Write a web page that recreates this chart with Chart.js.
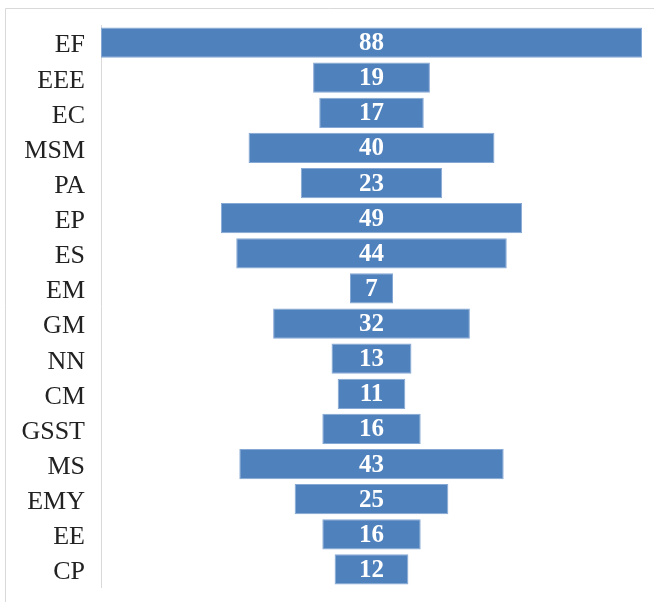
<!DOCTYPE html>
<html>
<head>
<meta charset="utf-8">
<script src="https://cdn.jsdelivr.net/npm/chart.js@4/dist/chart.umd.min.js"></script>
<style>
  html, body { margin: 0; padding: 0; background: #fff; }
  #wrap { width: 654px; height: 602px; }
</style>
</head>
<body>
<div id="wrap"><canvas id="funnel"></canvas></div>
<script>
const categories = ['EF', 'EEE', 'EC', 'MSM', 'PA', 'EP', 'ES', 'EM', 'GM', 'NN', 'CM', 'GSST', 'MS', 'EMY', 'EE', 'CP']
const counts = [88, 19, 17, 40, 23, 49, 44, 7, 32, 13, 11, 16, 43, 25, 16, 12]

// bars are centred on zero so they stack up like a funnel
const spans = counts.map(v => [-v / 2, v / 2])

const frame = {
  id: 'frame',
  beforeDraw(chart) {
    const c = chart.ctx
    c.save()
    c.strokeStyle = '#d9d9d9'
    c.lineWidth = 1
    c.beginPath()
    c.moveTo(5.5, chart.height)
    c.lineTo(5.5, 8.5)
    c.lineTo(chart.width, 8.5)
    c.stroke()
    c.restore()
  }
}

const valueLabels = {
  id: 'valueLabels',
  afterDatasetsDraw(chart) {
    const c = chart.ctx
    const meta = chart.getDatasetMeta(0)
    c.save()
    c.fillStyle = '#fff'
    c.font = 'bold 25px "Liberation Serif"'
    c.textAlign = 'center'
    c.textBaseline = 'middle'
    meta.data.forEach((bar, i) => {
      const mid = (bar.x + bar.base) / 2
      c.fillText(String(counts[i]), mid, bar.y + 1)
    })
    c.restore()
  }
}

new Chart(document.getElementById('funnel'), {
  type: 'bar',
  data: {
    labels: categories,
    datasets: [{
      data: spans,
      backgroundColor: '#4f81bd',
      borderColor: '#86a8d4',
      borderWidth: 1,
      borderSkipped: false,
      categoryPercentage: 1,
      barPercentage: 0.86
    }]
  },
  options: {
    indexAxis: 'y',
    responsive: true,
    maintainAspectRatio: false,
    animation: false,
    layout: { padding: { top: 25, right: 12, bottom: 15, left: 0 } },
    scales: {
      x: {
        display: false,
        min: -44,
        max: 44
      },
      y: {
        afterFit(scale) {
          scale.width = 101
          scale.paddingTop = 0
          scale.paddingBottom = 0
        },
        grid: { display: false, drawTicks: false },
        border: { display: true, color: '#d9d9d9', width: 1 },
        ticks: {
          color: '#222',
          padding: 16,
          labelOffset: 3,
          font: { family: '"Liberation Serif"', size: 26 }
        }
      }
    },
    plugins: {
      legend: { display: false },
      tooltip: { enabled: false }
    }
  },
  plugins: [frame, valueLabels]
})
</script>
</body>
</html>
